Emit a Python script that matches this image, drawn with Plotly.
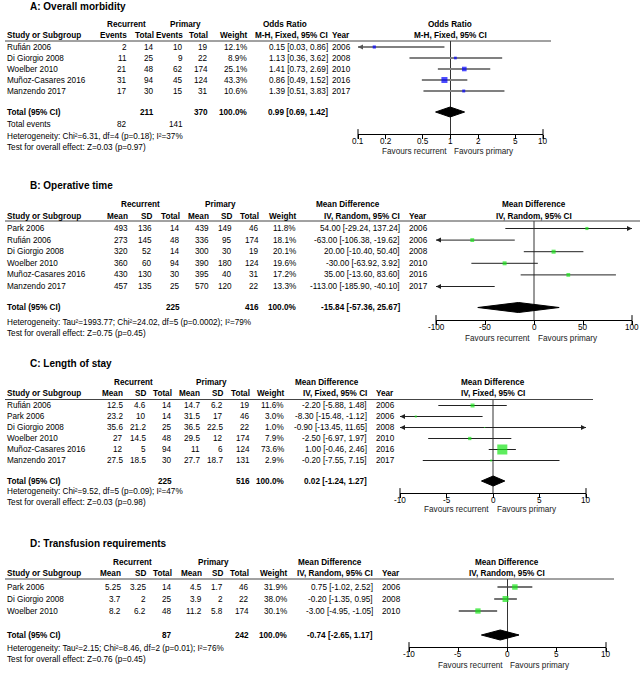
import math
import plotly.graph_objects as go

W, H = 640, 678
FONT = "Arial, 'Liberation Sans', sans-serif"
FS = 8.2

# ---------------- A: Overall morbidity ----------------
a_study = ["Rufián 2006", "Di Giorgio 2008", "Woelber 2010", "Muñoz-Casares 2016", "Manzendo 2017"]
a_rec_events = [2, 11, 21, 31, 17]
a_rec_total = [14, 25, 48, 94, 30]
a_pri_events = [10, 9, 62, 45, 15]
a_pri_total = [19, 22, 174, 124, 31]
a_weight = [12.1, 8.9, 25.1, 43.3, 10.6]
a_or = [0.15, 1.13, 1.41, 0.86, 1.39]
a_lo = [0.03, 0.36, 0.73, 0.49, 0.51]
a_hi = [0.86, 3.62, 2.69, 1.52, 3.83]
a_year = [2006, 2008, 2010, 2016, 2017]
a_total = dict(rec=211, pri=370, est=0.99, lo=0.69, hi=1.42, ev_rec=82, ev_pri=141)
a_het = "Heterogeneity: Chi²=6.31, df=4 (p=0.18); I²=37%"
a_test = "Test for overall effect: Z=0.03 (p=0.97)"
a_ticks = [0.1, 0.2, 0.5, 1, 2, 5, 10]

# ---------------- B: Operative time ----------------
b_study = ["Park 2006", "Rufián 2006", "Di Giorgio 2008", "Woelber 2010", "Muñoz-Casares 2016", "Manzendo 2017"]
b_rec_mean = [493, 273, 320, 360, 430, 457]
b_rec_sd = [136, 145, 52, 60, 130, 135]
b_rec_total = [14, 48, 14, 94, 30, 25]
b_pri_mean = [439, 336, 300, 390, 395, 570]
b_pri_sd = [149, 95, 30, 180, 40, 120]
b_pri_total = [46, 174, 19, 124, 31, 22]
b_weight = [11.8, 18.1, 20.1, 19.6, 17.2, 13.3]
b_md = [54.00, -63.00, 20.00, -30.00, 35.00, -113.00]
b_lo = [-29.24, -106.38, -10.40, -63.92, -13.60, -185.90]
b_hi = [137.24, -19.62, 50.40, 3.92, 83.60, -40.10]
b_year = [2006, 2006, 2008, 2010, 2016, 2017]
b_total = dict(rec=225, pri=416, est=-15.84, lo=-57.36, hi=25.67)
b_het = "Heterogeneity: Tau²=1993.77; Chi²=24.02, df=5 (p=0.0002); I²=79%"
b_test = "Test for overall effect: Z=0.75 (p=0.45)"
b_ticks = [-100, -50, 0, 50, 100]

# ---------------- C: Length of stay ----------------
c_study = ["Rufián 2006", "Park 2006", "Di Giorgio 2008", "Woelber 2010", "Muñoz-Casares 2016", "Manzendo 2017"]
c_rec_mean = [12.5, 23.2, 35.6, 27, 12, 27.5]
c_rec_sd = [4.6, 10, 21.2, 14.5, 5, 18.5]
c_rec_total = [14, 14, 25, 48, 94, 30]
c_pri_mean = [14.7, 31.5, 36.5, 29.5, 11, 27.7]
c_pri_sd = [6.2, 17, 22.5, 12, 6, 18.7]
c_pri_total = [19, 46, 22, 174, 124, 131]
c_weight = [11.6, 3.0, 1.0, 7.9, 73.6, 2.9]
c_md = [-2.20, -8.30, -0.90, -2.50, 1.00, -0.20]
c_lo = [-5.88, -15.48, -13.45, -6.97, -0.46, -7.55]
c_hi = [1.48, -1.12, 11.65, 1.97, 2.46, 7.15]
c_year = [2006, 2006, 2008, 2010, 2016, 2017]
c_total = dict(rec=225, pri=516, est=0.02, lo=-1.24, hi=1.27)
c_het = "Heterogeneity: Chi²=9.52, df=5 (p=0.09); I²=47%"
c_test = "Test for overall effect: Z=0.03 (p=0.98)"
c_ticks = [-10, -5, 0, 5, 10]

# ---------------- D: Transfusion requirements ----------------
d_study = ["Park 2006", "Di Giorgio 2008", "Woelber 2010"]
d_rec_mean = [5.25, 3.7, 8.2]
d_rec_sd = [3.25, 2, 6.2]
d_rec_total = [14, 25, 48]
d_pri_mean = [4.5, 3.9, 11.2]
d_pri_sd = [1.7, 2, 5.8]
d_pri_total = [46, 22, 174]
d_weight = [31.9, 38.0, 30.1]
d_md = [0.75, -0.20, -3.00]
d_lo = [-1.02, -1.35, -4.95]
d_hi = [2.52, 0.95, -1.05]
d_year = [2006, 2008, 2010]
d_total = dict(rec=87, pri=242, est=-0.74, lo=-2.65, hi=1.17)
d_het = "Heterogeneity: Tau²=2.15; Chi²=8.46, df=2 (p=0.01); I²=76%"
d_test = "Test for overall effect: Z=0.76 (p=0.45)"
d_ticks = [-10, -5, 0, 5, 10]

fig = go.Figure()
annots = []
shapes = []


def txt(x, y, s, anchor="left", bold=False, size=FS, color="black", xref="paper"):
    annots.append(dict(
        x=x / W if xref == "paper" else x, y=y, xref=xref, yref="y",
        text=f"<b>{s}</b>" if bold else s, showarrow=False,
        xanchor=anchor, yanchor="middle", borderpad=0, borderwidth=0,
        font=dict(family=FONT, size=size, color=color)))


def hline(x0, x1, y, color="#444", width=1):
    shapes.append(dict(type="line", xref="paper", yref="y",
                       x0=x0 / W, x1=x1 / W, y0=y, y1=y,
                       line=dict(color=color, width=width)))


def fmt(v):
    return f"{v:g}"


def panel(cfg, study, cols, weight, est, lo, hi, year, tot, het, test, mhdr, mtype, ticks):
    rows = [cfg["row0"] + i * cfg["step"] for i in range(len(study))]
    txt(30, cfg["title_y"], cfg["title"], bold=True, size=10)
    # group headers
    txt(cfg["rec_c"], cfg["h1"], "Recurrent", "center", bold=True)
    txt(cfg["pri_c"], cfg["h1"], "Primary", "center", bold=True)
    txt(cfg["mh_c"], cfg["h1"], mhdr, "center", bold=True)
    txt(cfg["fp_c"], cfg["h1"], mhdr, "center", bold=True)
    # column headers
    txt(7, cfg["h2"], "Study or Subgroup", bold=True)
    for hdr, vals, xr in cols:
        txt(xr, cfg["h2"], hdr, "right", bold=True)
    txt(cfg["w_x"], cfg["h2"], "Weight", "right", bold=True)
    txt(cfg["ci_x"], cfg["h2"], mtype, "right", bold=True)
    txt(cfg["yr_x"], cfg["h2"], "Year", "left", bold=True)
    txt(cfg["fp_c"], cfg["h2"], mtype, "center", bold=True)
    hline(5, cfg["line_x1"], cfg["line_y"])
    # body
    for i, s in enumerate(study):
        y = rows[i]
        txt(7, y, s)
        for hdr, vals, xr in cols:
            txt(xr, y, fmt(vals[i]), "right")
        txt(cfg["w_x"], y, f"{weight[i]:.1f}%", "right")
        txt(cfg["ci_x"], y, f"{est[i]:.2f} [{lo[i]:.2f}, {hi[i]:.2f}]", "right")
        txt(cfg["yr_x"], y, str(year[i]), "left")
    # total row
    yt = cfg["total_y"]
    txt(7, yt, "Total (95% CI)", bold=True)
    txt(cfg["tot_rec_x"], yt, str(tot["rec"]), "right", bold=True)
    txt(cfg["tot_pri_x"], yt, str(tot["pri"]), "right", bold=True)
    txt(cfg["w_x"], yt, "100.0%", "right", bold=True)
    txt(cfg["ci_x"], yt, f"{tot['est']:.2f} [{tot['lo']:.2f}, {tot['hi']:.2f}]", "right", bold=True)
    foot = list(cfg["foot"])
    if "ev_rec" in tot:
        yy = foot.pop(0)
        txt(7, yy, "Total events")
        txt(cfg["ev_rec_x"], yy, str(tot["ev_rec"]), "right")
        txt(cfg["ev_pri_x"], yy, str(tot["ev_pri"]), "right")
    txt(7, foot[0], het)
    txt(7, foot[1], test)

    # forest plot
    ax = cfg["ax"]
    logx = cfg.get("log", False)
    xmin, xmax = cfg["xr"]
    null = 1 if logx else 0
    tr = dict(xaxis=ax, yaxis="y", hoverinfo="skip", showlegend=False)
    fig.add_trace(go.Scatter(x=[null, null], y=[cfg["line_y"], cfg["axis_y"]], mode="lines",
                             line=dict(color="#333", width=1), **tr))
    xs, ys = [], []
    for l, h, y in zip(lo, hi, rows):
        xs += [l, h, None]
        ys += [y, y, None]
    fig.add_trace(go.Scatter(x=xs, y=ys, mode="lines",
                             line=dict(color=cfg["ci_color"], width=cfg["ci_w"]), **tr))
    sizes = [cfg["k"] * math.sqrt(w) for w in weight]
    fig.add_trace(go.Scatter(x=est, y=rows, mode="markers",
                             marker=dict(symbol="square", size=sizes, color=cfg["mcolor"],
                                         line=dict(width=0)), **tr))
    al = [(xmin, y) for l, y in zip(lo, rows) if l < xmin]
    ar = [(xmax, y) for h, y in zip(hi, rows) if h > xmax]
    if al:
        fig.add_trace(go.Scatter(x=[p[0] for p in al], y=[p[1] for p in al], mode="markers",
                                 cliponaxis=False,
                                 marker=dict(symbol="arrow-left", size=5, color=cfg["arrow_color"]), **tr))
    if ar:
        fig.add_trace(go.Scatter(x=[p[0] for p in ar], y=[p[1] for p in ar], mode="markers",
                                 cliponaxis=False,
                                 marker=dict(symbol="arrow-right", size=5, color=cfg["arrow_color"]), **tr))
    # taller end ticks crossing the axis line
    fig.add_trace(go.Scatter(x=[xmin, xmax], y=[cfg["axis_y"], cfg["axis_y"]], mode="markers",
                             cliponaxis=False,
                             marker=dict(symbol="line-ns", size=7, line=dict(color="black", width=1)), **tr))
    e, l, h = tot["est"], tot["lo"], tot["hi"]
    fig.add_trace(go.Scatter(x=[l, e, h, e, l], y=[yt, yt - 5, yt, yt + 5, yt], mode="lines",
                             fill="toself", fillcolor="black", line=dict(color="black", width=1), **tr))
    # tick labels
    for t in ticks:
        txt(math.log10(t) if logx else t, cfg["axis_y"] + 7.5, fmt(t), "center", xref=ax)
    txt(cfg["fav_l"], cfg["fav_y"], "Favours recurrent", "right", color="#222")
    txt(cfg["fav_r"], cfg["fav_y"], "Favours primary", "left", color="#222")


cfgA = dict(title="A: Overall morbidity", title_y=6, h1=24, h2=35, line_y=41, line_x1=551,
            row0=47, step=11, total_y=112, foot=[124.5, 136, 147],
            rec_c=126, pri_c=185, mh_c=285, fp_c=450, w_x=247, ci_x=328, yr_x=332,
            tot_rec_x=154, tot_pri_x=208, ev_rec_x=127, ev_pri_x=183,
            ax="x", log=True, xr=(0.1, 10), dom=(358, 543), axis_y=134,
            fav_y=151, fav_l=447, fav_r=454, k=0.92, mcolor="#0000ff",
            ci_color="#808080", ci_w=2, arrow_color="#555")
cfgB = dict(title="B: Operative time", title_y=185, h1=204, h2=216, line_y=221, line_x1=640,
            row0=228.5, step=11.6, total_y=307.5, foot=[322, 333],
            rec_c=140, pri_c=220, mh_c=348, fp_c=534, w_x=296, ci_x=400, yr_x=409,
            tot_rec_x=180, tot_pri_x=259,
            ax="x2", xr=(-100, 100), dom=(436, 632), axis_y=320,
            fav_y=338, fav_l=530, fav_r=538, k=0.9, mcolor="#19e619",
            ci_color="#222", ci_w=1, arrow_color="#222")
cfgC = dict(title="C: Length of stay", title_y=363, h1=382, h2=393.5, line_y=399.5, line_x1=593,
            row0=405.5, step=11, total_y=481, foot=[491.5, 502.5],
            rec_c=133, pri_c=211, mh_c=327, fp_c=493, w_x=284, ci_x=367, yr_x=376,
            tot_rec_x=172, tot_pri_x=250,
            ax="x3", xr=(-10, 10), dom=(400, 586), axis_y=493,
            fav_y=509, fav_l=489, fav_r=497, k=1.17, mcolor="#19e619",
            ci_color="#222", ci_w=1, arrow_color="#222")
cfgD = dict(title="D: Transfusion requirements", title_y=543, h1=562, h2=573.5, line_y=579, line_x1=614,
            row0=587, step=12, total_y=635, foot=[648, 659],
            rec_c=132, pri_c=213, mh_c=330, fp_c=507, w_x=287, ci_x=373, yr_x=382,
            tot_rec_x=172, tot_pri_x=249,
            ax="x4", xr=(-10, 10), dom=(409, 606), axis_y=647,
            fav_y=665.5, fav_l=503, fav_r=510, k=0.97, mcolor="#19e619",
            ci_color="#444", ci_w=1.5, arrow_color="#333")

panel(cfgA, a_study,
      [("Events", a_rec_events, 127), ("Total", a_rec_total, 154),
       ("Events", a_pri_events, 183), ("Total", a_pri_total, 208)],
      a_weight, a_or, a_lo, a_hi, a_year, a_total, a_het, a_test,
      "Odds Ratio", "M-H, Fixed, 95% CI", a_ticks)
panel(cfgB, b_study,
      [("Mean", b_rec_mean, 128), ("SD", b_rec_sd, 152), ("Total", b_rec_total, 180),
       ("Mean", b_pri_mean, 209), ("SD", b_pri_sd, 232), ("Total", b_pri_total, 259)],
      b_weight, b_md, b_lo, b_hi, b_year, b_total, b_het, b_test,
      "Mean Difference", "IV, Random, 95% CI", b_ticks)
panel(cfgC, c_study,
      [("Mean", c_rec_mean, 123), ("SD", c_rec_sd, 146), ("Total", c_rec_total, 172),
       ("Mean", c_pri_mean, 200), ("SD", c_pri_sd, 223), ("Total", c_pri_total, 250)],
      c_weight, c_md, c_lo, c_hi, c_year, c_total, c_het, c_test,
      "Mean Difference", "IV, Fixed, 95% CI", c_ticks)
panel(cfgD, d_study,
      [("Mean", d_rec_mean, 121), ("SD", d_rec_sd, 146), ("Total", d_rec_total, 172),
       ("Mean", d_pri_mean, 202), ("SD", d_pri_sd, 223), ("Total", d_pri_total, 249)],
      d_weight, d_md, d_lo, d_hi, d_year, d_total, d_het, d_test,
      "Mean Difference", "IV, Random, 95% CI", d_ticks)


def xaxis(cfg, ticks):
    logx = cfg.get("log", False)
    xmin, xmax = cfg["xr"]
    rng = [math.log10(xmin), math.log10(xmax)] if logx else [xmin, xmax]
    return dict(domain=[cfg["dom"][0] / W, cfg["dom"][1] / W], anchor="free",
                position=1 - cfg["axis_y"] / H, range=rng, type="log" if logx else "linear",
                tickvals=ticks, showticklabels=False,
                showline=True, linecolor="black", linewidth=1, ticks="outside", ticklen=4,
                tickcolor="black", tickwidth=1, showgrid=False, zeroline=False,
                fixedrange=True)


fig.update_layout(
    width=W, height=H, margin=dict(l=0, r=0, t=0, b=0),
    paper_bgcolor="white", plot_bgcolor="rgba(0,0,0,0)",
    showlegend=False, hovermode=False,
    xaxis=xaxis(cfgA, a_ticks),
    xaxis2=xaxis(cfgB, b_ticks),
    xaxis3=xaxis(cfgC, c_ticks),
    xaxis4=xaxis(cfgD, d_ticks),
    yaxis=dict(domain=[0, 1], range=[H, 0], visible=False, fixedrange=True),
    annotations=annots, shapes=shapes,
)

fig.write_html("out.html", config={"displayModeBar": False},
               post_script="document.body.style.margin='0';document.body.style.overflow='hidden';")
